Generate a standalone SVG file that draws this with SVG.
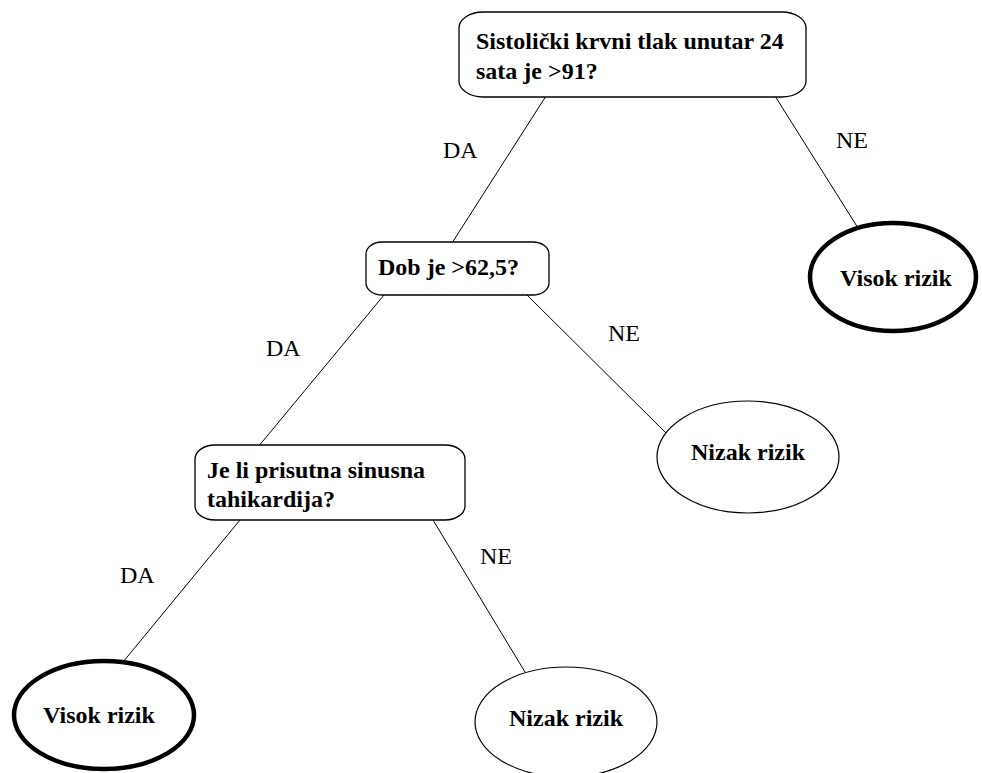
<svg xmlns="http://www.w3.org/2000/svg" width="982" height="773" viewBox="0 0 982 773">
<style>
.box{fill:#fff;stroke:#000;stroke-width:1.3}
.leaf{fill:#fff;stroke:#000;stroke-width:1.2}
.leafb{fill:#fff;stroke:#000;stroke-width:4.5}
.t{font-family:"Liberation Serif","Times New Roman",serif;font-weight:bold;font-size:24px;fill:#000}
.lbl{font-family:"Liberation Serif","Times New Roman",serif;font-size:24px;fill:#000}
.edge{stroke:#000;stroke-width:1;fill:none}
</style>
<rect width="982" height="773" fill="#fff"/>
<g id="edges">
<line class="edge" x1="546" y1="96" x2="452" y2="243"/>
<line class="edge" x1="775" y1="96" x2="858" y2="228"/>
<line class="edge" x1="384" y1="295" x2="258" y2="447"/>
<line class="edge" x1="527" y1="295" x2="666" y2="433"/>
<line class="edge" x1="240" y1="520" x2="123" y2="662"/>
<line class="edge" x1="433" y1="520" x2="525" y2="672"/>
<text class="lbl" x="443" y="158">DA</text>
<text class="lbl" x="836" y="148">NE</text>
<text class="lbl" x="266" y="356">DA</text>
<text class="lbl" x="608" y="341">NE</text>
<text class="lbl" x="120" y="583">DA</text>
<text class="lbl" x="480" y="564">NE</text>
</g>
<g id="n1">
<rect class="box" x="459" y="12" width="347" height="85" rx="24" ry="16"/>
<text class="t" x="476" y="49">Sistolički krvni tlak unutar 24</text>
<text class="t" x="476" y="79">sata je &gt;91?</text>
</g>
<g id="n2">
<rect class="box" x="366" y="242" width="183" height="53" rx="16" ry="12"/>
<text class="t" x="378" y="275">Dob je &gt;62,5?</text>
</g>
<g id="n3">
<rect class="box" x="195" y="445" width="270" height="75" rx="20" ry="14"/>
<text class="t" x="207" y="478">Je li prisutna sinusna</text>
<text class="t" x="207" y="507">tahikardija?</text>
</g>
<g id="n4">
<ellipse class="leafb" cx="893" cy="277" rx="83" ry="54"/>
<text class="t" x="896" y="286" text-anchor="middle">Visok rizik</text>
</g>
<g id="n5">
<ellipse class="leaf" cx="748" cy="457" rx="91" ry="56"/>
<text class="t" x="748" y="460" text-anchor="middle">Nizak rizik</text>
</g>
<g id="n6">
<ellipse class="leafb" cx="104" cy="715" rx="90" ry="54"/>
<text class="t" x="99" y="723" text-anchor="middle">Visok rizik</text>
</g>
<g id="n7">
<ellipse class="leaf" cx="566" cy="722" rx="91" ry="55"/>
<text class="t" x="566" y="726" text-anchor="middle">Nizak rizik</text>
</g>
</svg>
